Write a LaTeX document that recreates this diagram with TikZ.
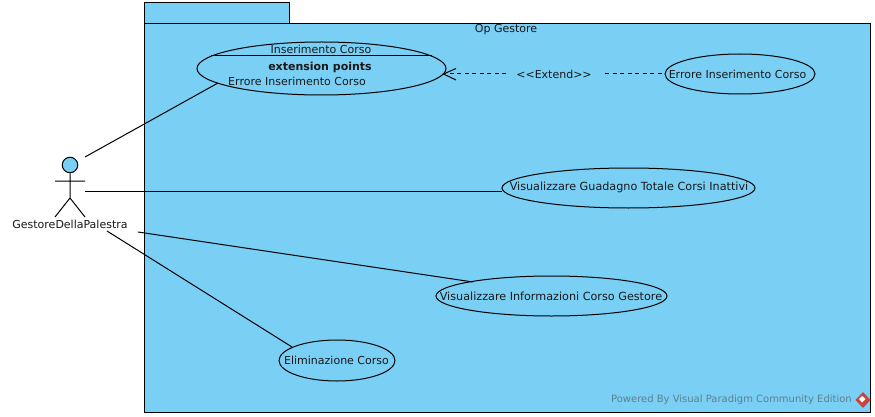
\documentclass[tikz,border=0pt]{standalone}
\usepackage{fontspec}
\setmainfont{DejaVu Sans}
\usetikzlibrary{arrows.meta,shapes.geometric}
\definecolor{pkgblue}{HTML}{7ACFF5}
\definecolor{wm}{HTML}{5F7F90}
\definecolor{wmred}{HTML}{C8453F}
\tikzset{
  x=1pt,y=-1pt,
  every node/.style={font=\fontsize{11}{12}\selectfont,inner sep=0pt,text=black!90},
  widetext/.style={font=\fontsize{11.2}{12}\selectfont},
  line/.style={draw=black,line width=1pt},
  usecase/.style={ellipse,draw=black,line width=1pt,fill=pkgblue,minimum width=#1,inner sep=0pt},
  actorpart/.style={draw=black,line width=1pt},
  extendline/.style={draw=black,line width=1pt,dash pattern=on 4pt off 3.5pt},
}
\begin{document}
\begin{tikzpicture}
\useasboundingbox (0,0) rectangle (875,417);
\fill[white] (0,0) rectangle (875,417);
% package
\node[draw=black,line width=1pt,fill=pkgblue,minimum width=145,minimum height=21,anchor=north west] (tab) at (144,2) {};
\node[draw=black,line width=1pt,fill=pkgblue,minimum width=726,minimum height=389,anchor=north west] (pkg) at (144,22.7) {};
\node (pkgname) at (506,30) {Op Gestore};
% use cases
\node[usecase=249,minimum height=53] (e1) at (321.5,68.5) {};
\node[usecase=150,minimum height=40] (e2) at (740,74) {};
\node[usecase=253,minimum height=40] (e3) at (628.5,188) {};
\node[usecase=231,minimum height=40] (e4) at (551.5,296) {};
\node[usecase=116,minimum height=41] (e5) at (337,360.5) {};
\node (e1a) at (321,49.5) {Inserimento Corso};
\node[font=\fontsize{11}{12}\selectfont\bfseries] (e1b) at (320,67.5) {extension points};
\node (e1c) at (297,81.5) {Errore Inserimento Corso};
\coordinate (e1l) at (211,56);
\coordinate (e1r) at (432,56);
\draw[line] (e1l) -- (e1r);
\node (e2t) at (737.5,74.5) {Errore Inserimento Corso};
\node[widetext] (e3t) at (629,187.5) {Visualizzare Guadagno Totale Corsi Inattivi};
\node[widetext] (e4t) at (551,296.5) {Visualizzare Informazioni Corso Gestore};
\node (e5t) at (336.5,360.5) {Eliminazione Corso};
% actor
\node[circle,draw=black,line width=1pt,fill=pkgblue,minimum size=15.5] (head) at (70,165) {};
\coordinate (neck) at (70,173);
\coordinate (hip) at (70,198);
\coordinate (armL) at (55,181);
\coordinate (armR) at (85,181);
\coordinate (legL) at (55,217);
\coordinate (legR) at (85,217);
\draw[actorpart] (head.south) -- (hip) (armL) -- (armR) (legL) -- (hip) -- (legR);
\node (actor) at (70,224.5) {GestoreDellaPalestra};
% connectors
\coordinate (a1) at (85,157);
\coordinate (a2) at (85,191);
\coordinate (a3) at (138,232);
\coordinate (a4) at (107,231);
\coordinate (c1) at (218,83);
\coordinate (c2) at (502,191);
\coordinate (c3) at (473,282);
\coordinate (c4) at (292,347);
\draw[line] (a1) -- (c1);
\draw[line] (a2) -- (c2);
\draw[line] (a3) -- (c3);
\draw[line] (a4) -- (c4);
% extend
\node (ext) at (554,74.5) {<{}<Extend>{}>};
\coordinate (d1) at (506,74);
\coordinate (d2) at (605,74);
\coordinate (tip) at (443.5,74);
\draw[extendline] (d1) -- (tip);
\draw[extendline] (d2) -- (e2.west);
\draw[line] (456,68.5) -- (tip) -- (456,80);
% watermark
\node[text=wm,font=\fontsize{10}{12}\selectfont,anchor=east] (wmk) at (852,400) {Powered By Visual Paradigm Community Edition};
\fill[wmred] (863,392) -- (870.5,400) -- (863,408) -- (855.5,400) -- cycle;
\fill[white] (862,396) -- (865.5,399) -- (862,402.5) -- (859,399) -- cycle;
\end{tikzpicture}
\end{document}
